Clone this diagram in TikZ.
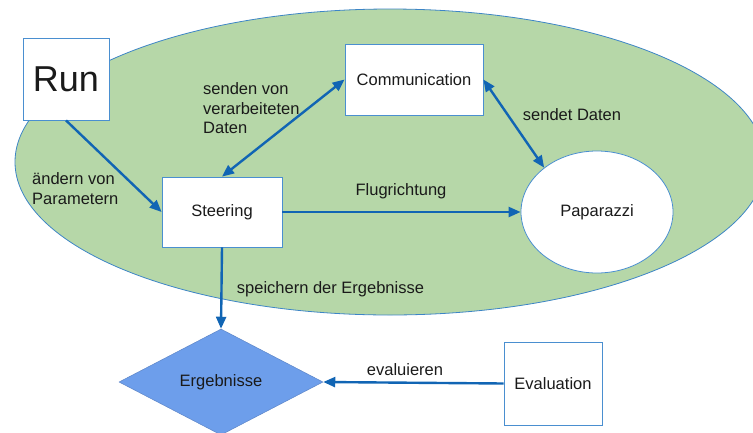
\documentclass[tikz,border=0pt]{standalone}
\usepackage{fontspec}
\setmainfont{Liberation Sans}
\usetikzlibrary{arrows.meta,shapes.geometric}
\definecolor{ellfill}{HTML}{B6D7A8}
\definecolor{ellline}{HTML}{3D85C6}
\definecolor{boxline}{HTML}{4A8FD0}
\definecolor{arrowblue}{RGB}{17,101,180}
\definecolor{diafill}{HTML}{6D9EEB}
\definecolor{txt}{HTML}{1A1A1A}
\tikzset{
  lbl/.style={font=\fontsize{16.5}{19.5}\selectfont, text=txt, inner sep=0pt},
  boxnode/.style={draw=boxline, line width=0.8pt, fill=white, inner sep=0pt,
    font=\fontsize{16.5}{19.5}\selectfont, text=txt},
  conn/.style={draw=arrowblue, line width=2.4pt,
    -{Triangle[length=12pt,width=10pt]}},
  dconn/.style={draw=arrowblue, line width=2.4pt,
    {Triangle[length=12pt,width=10pt]}-{Triangle[length=12pt,width=10pt]}},
}
\begin{document}
\begin{tikzpicture}[x=1pt,y=1pt]
\useasboundingbox (0,0) rectangle (753,-432);
\clip (0,0) rectangle (753,-432);
% big ellipse
\filldraw[fill=ellfill, draw=ellline, line width=0.8pt]
  (390,-162) ellipse [x radius=375, y radius=153];
% nodes
\node[boxnode, minimum width=86, minimum height=82,
  font=\fontsize{36}{40}\selectfont] (run) at (66,-79) {Run};
\node[boxnode, minimum width=138, minimum height=71] (comm) at (414,-79.5) {Communication};
\node[boxnode, minimum width=120, minimum height=70] (steer) at (222,-212) {Steering};
\node[boxnode, ellipse, minimum width=152, minimum height=122] (pap) at (597,-212) {Paparazzi};
\node[diamond, fill=diafill, draw=diafill!85!black, line width=0.5pt, inner sep=0pt,
  minimum width=204, minimum height=106,
  font=\fontsize{16.5}{19.5}\selectfont, text=txt] (erg) at (221,-382) {Ergebnisse};
\node[boxnode, minimum width=98, minimum height=83] (eval) at (553,-383.5) {Evaluation};
% connectors
\draw[conn] (run.south) -- (steer.west);
\draw[dconn] (steer.north) -- (comm.west);
\draw[dconn] (comm.east) -- (pap.140);
\draw[conn] (steer.east) -- (pap.west);
\draw[conn] (steer.south) -- (erg.north);
\draw[conn] (eval.west) -- (erg.east);
% labels
\node[lbl, anchor=west, align=left] (l1) at (203,-108.5) {senden von\\verarbeiteten\\Daten};
\node[lbl, anchor=west, align=left] (l2) at (32,-188.5) {ändern von\\Parametern};
\node[lbl] (l3) at (401,-191) {Flugrichtung};
\node[lbl] (l4) at (572,-115) {sendet Daten};
\node[lbl] (l5) at (330.5,-289) {speichern der Ergebnisse};
\node[lbl] (l6) at (405,-370) {evaluieren};
\end{tikzpicture}
\end{document}
